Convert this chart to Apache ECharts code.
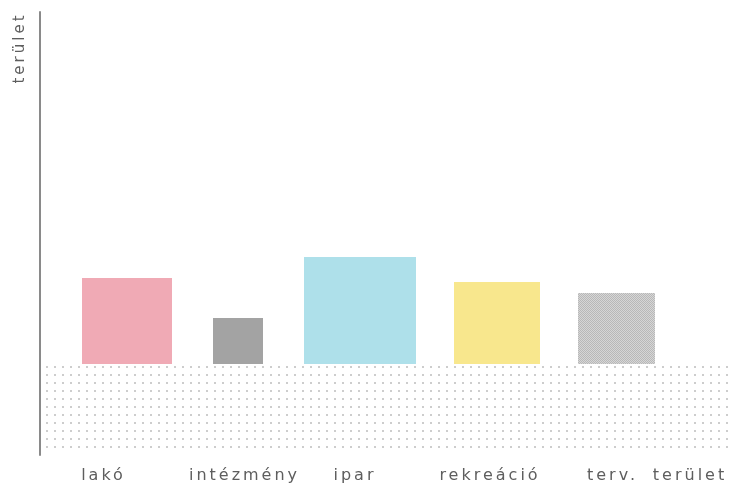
<!DOCTYPE html>
<html>
<head>
<meta charset="utf-8">
<script src="https://cdn.jsdelivr.net/npm/echarts@6/dist/echarts.min.js"></script>
<style>
  html, body { margin: 0; padding: 0; background: #fff; }
  #chart { width: 730px; height: 489px; }
</style>
</head>
<body>
<div id="chart"></div>
<script>
// Land-use categories and their area values (bar height), with each bar's extent on the x scale
const categories = ['lakó', 'intézmény', 'ipar', 'rekreáció', 'terv.'];
const areaValues = [8.6, 4.6, 10.7, 8.2, 7.1];
const spanFrom   = [4.2, 17.3, 26.4, 41.4, 53.8];
const spanTo     = [13.2, 22.3, 37.6, 50.0, 61.5];

// Category captions along the bottom axis
const tickLabels = ['lakó', 'intézmény', 'ipar', 'rekreáció', 'terv.', 'terület'];
const tickAt     = [6.35, 20.45, 31.5, 45.0, 57.25, 65.0];

// Dotted ground band below the baseline
const baseBand = [0, -8.8];

const FONT = '"DejaVu Sans", sans-serif';

// Wide tracking for every text the chart paints on its canvas
(function () {
  const proto = CanvasRenderingContext2D.prototype;
  if (!('letterSpacing' in proto)) return;
  const fillText = proto.fillText;
  proto.fillText = function () {
    this.letterSpacing = '3px';
    return fillText.apply(this, arguments);
  };
})();

// Small repeating canvas used as a dotted fill
function dotPattern() {
  const c = document.createElement('canvas');
  c.width = 8; c.height = 8;
  const g = c.getContext('2d');
  g.fillStyle = '#cdcdcd';
  g.fillRect(6, 6, 2, 2);
  return { image: c, repeat: 'repeat' };
}

// Fine grey checker fill for the planned-area bar
function checkerPattern() {
  const c = document.createElement('canvas');
  c.width = 2; c.height = 2;
  const g = c.getContext('2d');
  g.fillStyle = '#d6d6d6';
  g.fillRect(0, 0, 2, 2);
  g.fillStyle = '#b8b8b8';
  g.fillRect(0, 0, 1, 1);
  g.fillRect(1, 1, 1, 1);
  return { image: c, repeat: 'repeat' };
}

const fills = ['#f0aab5', '#a3a3a3', '#aee0ea', '#f8e78d', checkerPattern()];

const chart = echarts.init(document.getElementById('chart'), null, { renderer: 'canvas' });

chart.setOption({
  animation: false,
  backgroundColor: '#ffffff',
  grid: { left: 40, right: 0, top: 12, bottom: 34 },
  xAxis: {
    type: 'value',
    min: 0,
    max: 69,
    axisLine: { show: false, onZero: false },
    axisTick: { show: false },
    splitLine: { show: false },
    axisLabel: {
      customValues: tickAt,
      formatter: (v) => tickLabels[tickAt.indexOf(v)],
      margin: 13,
      color: '#5e5e5e',
      fontFamily: FONT,
      fontSize: 16,
      hideOverlap: false
    }
  },
  yAxis: {
    type: 'value',
    min: -9.1,
    max: 35.2,
    axisLine: { show: true, onZero: false, lineStyle: { color: '#8a8a8a', width: 2 } },
    axisTick: { show: false },
    axisLabel: { show: false },
    splitLine: { show: false }
  },
  graphic: [{
    type: 'text',
    x: 20,
    y: 48,
    rotation: Math.PI / 2,
    style: {
      text: 'terület',
      font: '15px ' + FONT,
      fill: '#5e5e5e',
      align: 'center',
      verticalAlign: 'middle'
    }
  }],
  series: [{
    type: 'custom',
    data: categories.map((c, i) => [spanFrom[i], spanTo[i], areaValues[i], c]),
    encode: { x: [0, 1], y: 2 },
    renderItem: (params, api) => {
      const i = params.dataIndex;
      const topLeft = api.coord([api.value(0), api.value(2)]);
      const bottomRight = api.coord([api.value(1), 0]);
      return {
        type: 'rect',
        shape: {
          x: topLeft[0],
          y: topLeft[1],
          width: bottomRight[0] - topLeft[0],
          height: bottomRight[1] - topLeft[1]
        },
        style: { fill: fills[i] }
      };
    },
    markArea: {
      silent: true,
      itemStyle: { color: dotPattern() },
      data: [[{ xAxis: 0.2, yAxis: baseBand[0] }, { xAxis: 69, yAxis: baseBand[1] }]]
    }
  }]
});
</script>
</body>
</html>
